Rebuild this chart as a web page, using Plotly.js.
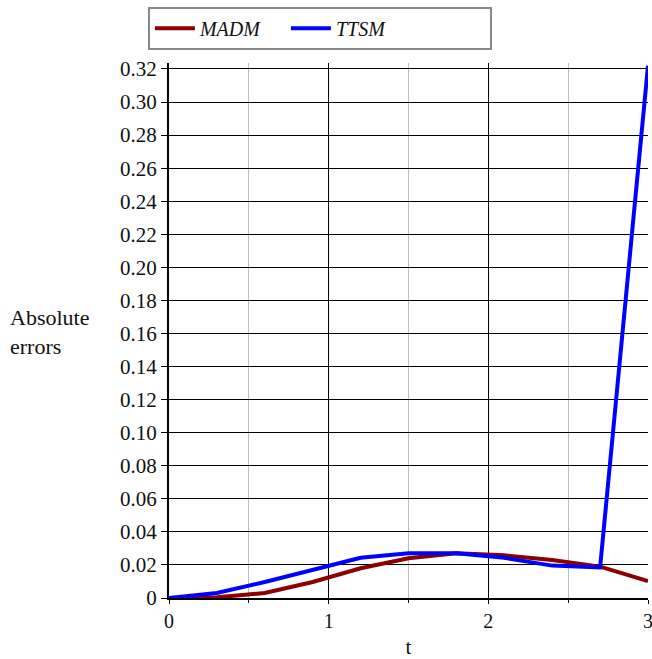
<!DOCTYPE html>
<html>
<head>
<meta charset="utf-8">
<script src="https://cdn.plot.ly/plotly-3.0.1.min.js"></script>
<style>html,body{margin:0;padding:0;background:#fff;}#chart{width:652px;height:659px;}</style>
</head>
<body>
<div id="chart"></div>
<script>
var tValues = [0, 0.3, 0.6, 0.9, 1.2, 1.5, 1.8, 2.1, 2.4, 2.7, 3.0];
var madmErrors = [0, 0.0004, 0.003, 0.0097, 0.018, 0.024, 0.027, 0.0258, 0.023, 0.019, 0.0103];
var ttsmErrors = [0, 0.003, 0.0097, 0.0173, 0.0243, 0.027, 0.027, 0.0243, 0.0196, 0.0185, 0.322];
var seriesNames = ['MADM', 'TTSM'];
var xTickVals = [0, 1, 2, 3];
var xTickText = ['0', '1', '2', '3'];
var yTickVals = [0, 0.02, 0.04, 0.06, 0.08, 0.10, 0.12, 0.14, 0.16, 0.18, 0.20, 0.22, 0.24, 0.26, 0.28, 0.30, 0.32];
var yTickText = ['0', '0.02', '0.04', '0.06', '0.08', '0.10', '0.12', '0.14', '0.16', '0.18', '0.20', '0.22', '0.24', '0.26', '0.28', '0.30', '0.32'];

function pad(n) { var s = ''; for (var i = 0; i < n; i++) s += '&nbsp;'; return s; }
var serif = 'Liberation Serif, Times New Roman, serif';
var traces = [
  {x: tValues, y: madmErrors, name: '<i>' + seriesNames[0] + '</i>' + pad(4), mode: 'lines', line: {color: '#8c0000', width: 4}},
  {x: tValues, y: ttsmErrors, name: '<i>' + seriesNames[1] + '</i>' + pad(20), mode: 'lines', line: {color: '#0000ff', width: 4}}
];
var layout = {
  width: 652, height: 659,
  margin: {l: 169, r: 4, t: 63, b: 61},
  paper_bgcolor: '#fff', plot_bgcolor: '#fff',
  font: {family: serif, size: 21, color: '#111'},
  showlegend: true,
  legend: {orientation: 'h', x: -0.044, y: 1.105, xanchor: 'left', yanchor: 'top',
    bordercolor: '#888', borderwidth: 2, font: {family: serif, size: 20, color: '#111'},
    itemwidth: 40, bgcolor: '#fff', tracegroupgap: 0},
  xaxis: {range: [0, 3], tickvals: xTickVals, ticktext: xTickText, ticklabeloverflow: 'allow',
    showgrid: true, gridcolor: '#000', gridwidth: 1,
    showline: true, linecolor: '#000', linewidth: 2,
    ticks: 'outside', ticklen: 4, tickcolor: '#000', zeroline: false,
    minor: {dtick: 0.5, tick0: 0, showgrid: true, gridcolor: '#bdbdbd', gridwidth: 1, ticks: 'outside', ticklen: 3, tickcolor: '#000'},
    tickfont: {family: serif, size: 20, color: '#111'},
    title: {text: 't', font: {family: serif, size: 21, color: '#111'}, standoff: 12}},
  yaxis: {range: [0, 0.3236], tickvals: yTickVals, ticktext: yTickText, ticklabeloverflow: 'allow',
    showgrid: true, gridcolor: '#000', gridwidth: 1,
    showline: true, linecolor: '#000', linewidth: 2,
    ticks: 'outside', ticklen: 6, tickcolor: '#000', zeroline: false,
    tickfont: {family: serif, size: 21, color: '#111'}},
  annotations: [
    {xref: 'paper', yref: 'paper', x: -0.337, y: 0.498, xanchor: 'left', yanchor: 'middle', showarrow: false, align: 'left',
     text: 'Absolute<br>errors', font: {family: serif, size: 22, color: '#111'}}
  ]
};
Plotly.newPlot('chart', traces, layout, {displayModeBar: false, staticPlot: true});
</script>
</body>
</html>
